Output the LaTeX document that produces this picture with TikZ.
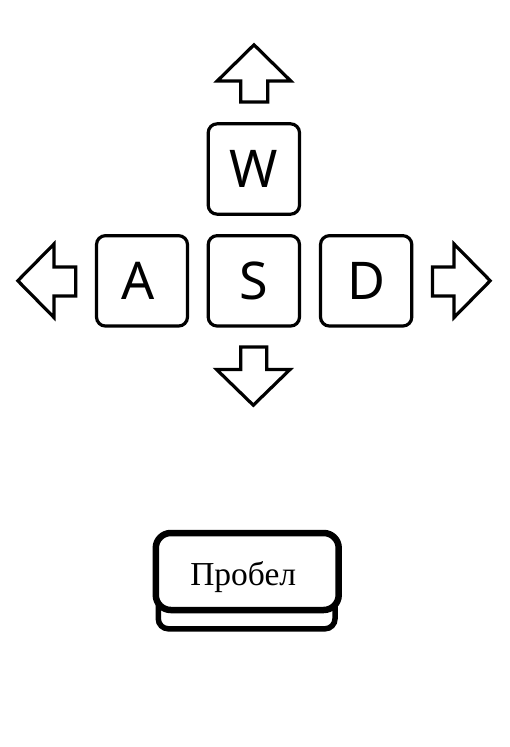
\documentclass[tikz,border=0pt]{standalone}
\usepackage{fontspec}
\setmainfont{Liberation Serif}
\newfontfamily\keyfont{Noto Sans}
\begin{document}
\begin{tikzpicture}[x=1pt,y=-1pt,
  keybox/.style={draw, line width=3.2pt, rounded corners=9pt, minimum width=91.3pt,
    minimum height=90.4pt, inner sep=0pt, text height=37pt, text depth=0pt,
    font=\keyfont\fontsize{52}{52}\selectfont},
  blockarrow/.style={draw, line width=3.2pt, line join=miter},
  spaceface/.style={draw, fill=white, line width=6.5pt, rounded corners=15pt,
    minimum width=182.9pt, minimum height=77pt, inner sep=0pt,
    text height=28.4pt, text depth=0pt, font=\fontsize{33.5}{34}\selectfont},
  spacebase/.style={draw, line width=5.5pt, rounded corners=10pt,
    minimum width=176.7pt, minimum height=58.8pt, inner sep=0pt}
]
\useasboundingbox (0,0) rectangle (510,747);

% keys
\node[keybox] (w) at (253.85,169) {W};
\node[keybox, minimum width=91pt] (a) at (142,280.85) {\hspace*{-8pt}A};
\node[keybox] (s) at (253.85,280.85) {S};
\node[keybox] (d) at (366.15,280.85) {D};

% arrows
\draw[blockarrow] (254,44.8) -- (290.8,81) -- (267.7,81) -- (267.7,102)
  -- (240.7,102) -- (240.7,81) -- (217.2,81) -- cycle;
\draw[blockarrow] (240.7,347) -- (266.7,347) -- (266.7,369.5) -- (290,369.5)
  -- (253.3,405.2) -- (216.6,369.5) -- (240.7,369.5) -- cycle;
\draw[blockarrow] (17.8,280.75) -- (54,244) -- (54,267) -- (75.8,267)
  -- (75.8,296) -- (54,296) -- (54,317.5) -- cycle;
\draw[blockarrow] (432.5,267) -- (454,267) -- (454,244) -- (490.2,280.75)
  -- (454,317.5) -- (454,296) -- (432.5,296) -- cycle;

% space bar
\node[spacebase] (base) at (246.65,599.4) {};
\node[spaceface] (space) at (247.25,571.5) {\hspace*{-8pt}Пробел};
\end{tikzpicture}
\end{document}
